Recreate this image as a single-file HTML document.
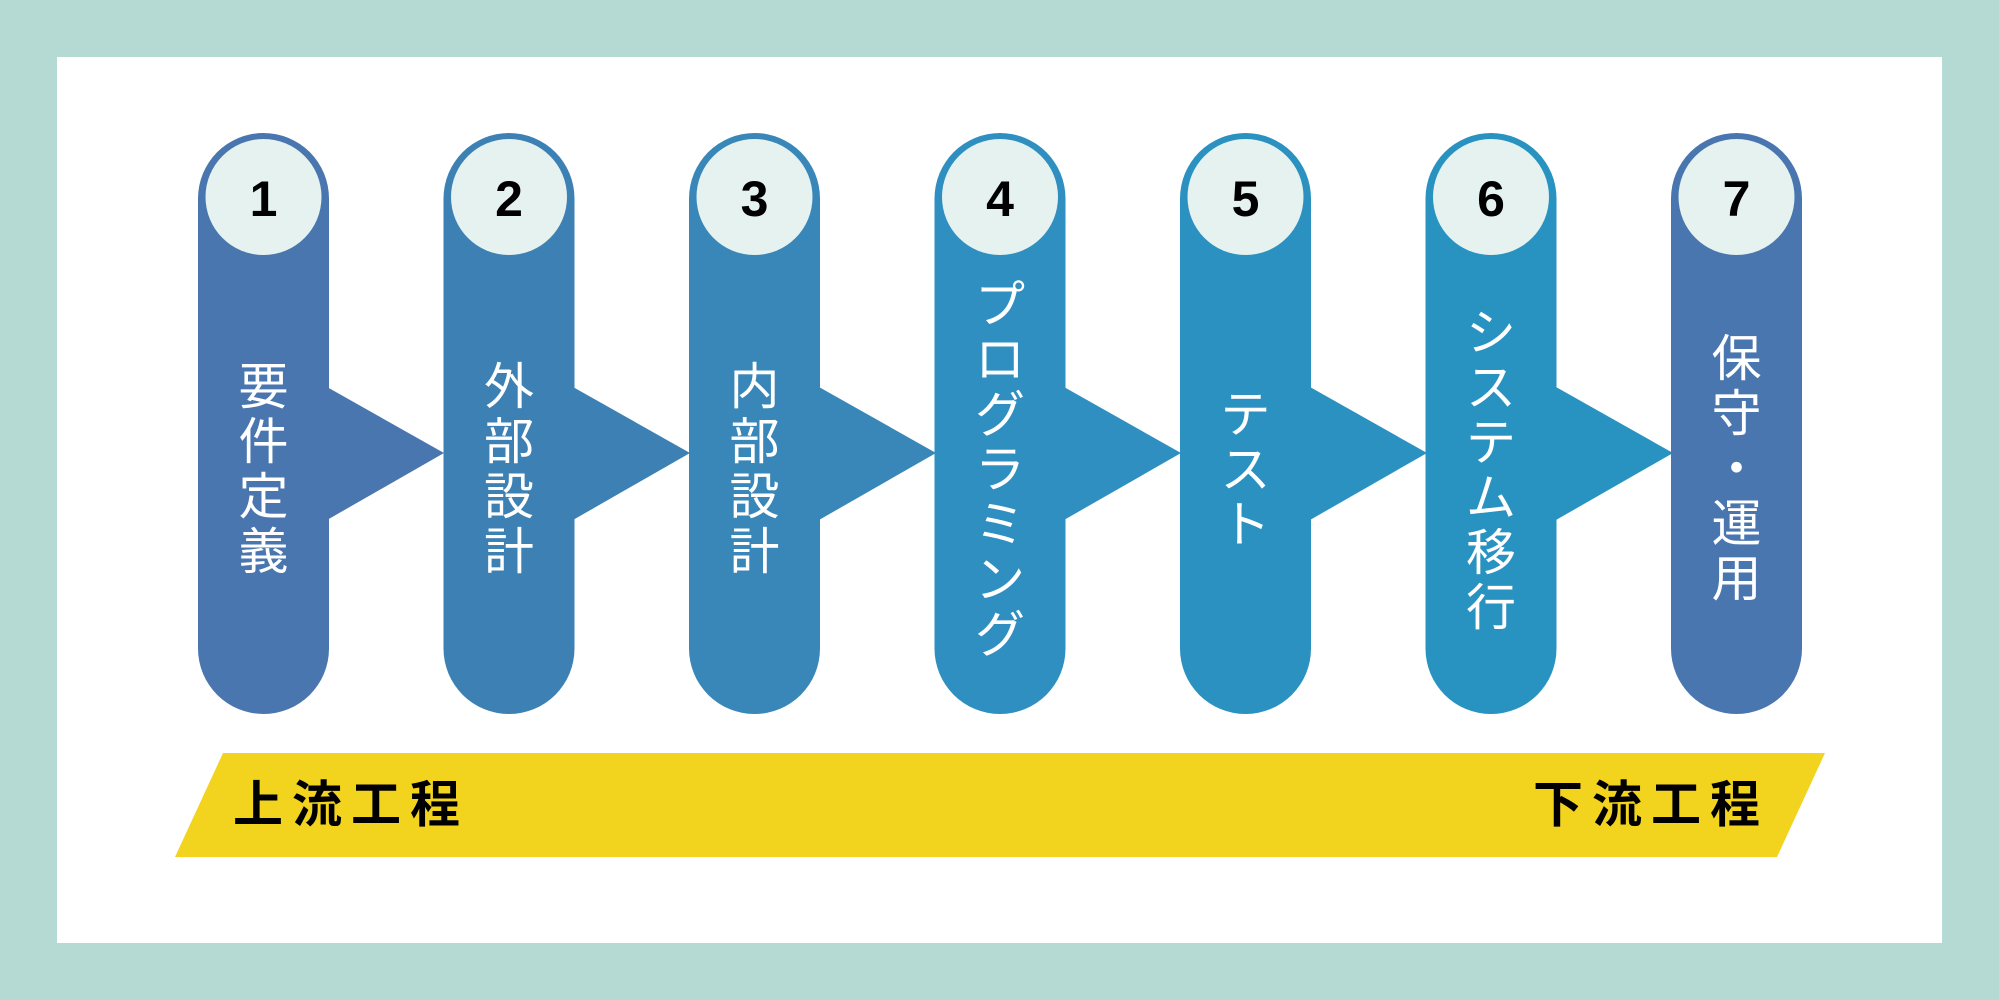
<!DOCTYPE html>
<html><head><meta charset="utf-8"><style>
html,body{margin:0;padding:0;background:#b5d9d3;}
svg{display:block}
text{font-family:"Liberation Sans","Noto Sans CJK JP",sans-serif;}
</style></head><body>
<svg width="1999" height="1000" viewBox="0 0 1999 1000" xmlns="http://www.w3.org/2000/svg">
<rect width="1999" height="1000" fill="#b5d9d3"/>
<rect x="57" y="57" width="1885" height="886" fill="#ffffff"/>
<!-- arrows -->
<g>
<polygon points="327,387 444,453 327,520" fill="#4a76b0"/>
<polygon points="573,387 690,453 573,520" fill="#3d80b4"/>
<polygon points="819,387 936,453 819,520" fill="#3987b8"/>
<polygon points="1064,387 1181,453 1064,520" fill="#2e8fc0"/>
<polygon points="1310,387 1427,453 1310,520" fill="#2b91c0"/>
<polygon points="1556,387 1673,453 1556,520" fill="#2892c0"/>
</g>
<!-- columns -->
<g>
<rect x="198" y="133" width="131" height="581" rx="65.5" fill="#4a76b0"/>
<rect x="443.5" y="133" width="131" height="581" rx="65.5" fill="#3d80b4"/>
<rect x="689" y="133" width="131" height="581" rx="65.5" fill="#3987b8"/>
<rect x="934.5" y="133" width="131" height="581" rx="65.5" fill="#2e8fc0"/>
<rect x="1180" y="133" width="131" height="581" rx="65.5" fill="#2b91c0"/>
<rect x="1425.5" y="133" width="131" height="581" rx="65.5" fill="#2892c0"/>
<rect x="1671" y="133" width="131" height="581" rx="65.5" fill="#4a76b0"/>
</g>
<g fill="#e5f2ef">
<circle cx="263.5" cy="197" r="58"/>
<circle cx="509" cy="197" r="58"/>
<circle cx="754.5" cy="197" r="58"/>
<circle cx="1000" cy="197" r="58"/>
<circle cx="1245.5" cy="197" r="58"/>
<circle cx="1491" cy="197" r="58"/>
<circle cx="1736.5" cy="197" r="58"/>
</g>
<g font-size="50" font-weight="bold" fill="#000" text-anchor="middle" dominant-baseline="central">
<text x="263.5" y="199">1</text>
<text x="509" y="199">2</text>
<text x="754.5" y="199">3</text>
<text x="1000" y="199">4</text>
<text x="1245.5" y="199">5</text>
<text x="1491" y="199">6</text>
<text x="1736.5" y="199">7</text>
</g>
<g font-size="50" fill="#fff" text-anchor="middle" dominant-baseline="central">
<text x="263.5" y="387">要</text><text x="263.5" y="442">件</text><text x="263.5" y="497">定</text><text x="263.5" y="552">義</text>
<text x="509" y="387">外</text><text x="509" y="442">部</text><text x="509" y="497">設</text><text x="509" y="552">計</text>
<text x="754.5" y="387">内</text><text x="754.5" y="442">部</text><text x="754.5" y="497">設</text><text x="754.5" y="552">計</text>
<text x="1000" y="305">プ</text><text x="1000" y="360">ロ</text><text x="1000" y="415">グ</text><text x="1000" y="470">ラ</text><text x="1000" y="525">ミ</text><text x="1000" y="580">ン</text><text x="1000" y="635">グ</text>
<text x="1245.5" y="415">テ</text><text x="1245.5" y="470">ス</text><text x="1245.5" y="525">ト</text>
<text x="1491" y="333">シ</text><text x="1491" y="388">ス</text><text x="1491" y="443">テ</text><text x="1491" y="498">ム</text><text x="1491" y="553">移</text><text x="1491" y="608">行</text>
<text x="1736.5" y="359">保</text><text x="1736.5" y="414">守</text><text x="1736.5" y="469">・</text><text x="1736.5" y="524">運</text><text x="1736.5" y="579">用</text>
</g>
<polygon points="223,753 1825,753 1777,857 175,857" fill="#f2d41f"/>
<g font-size="50" font-weight="bold" fill="#000" dominant-baseline="central" letter-spacing="9">
<text x="233" y="805">上流工程</text>
<text x="1533" y="805">下流工程</text>
</g>
</svg>
</body></html>
